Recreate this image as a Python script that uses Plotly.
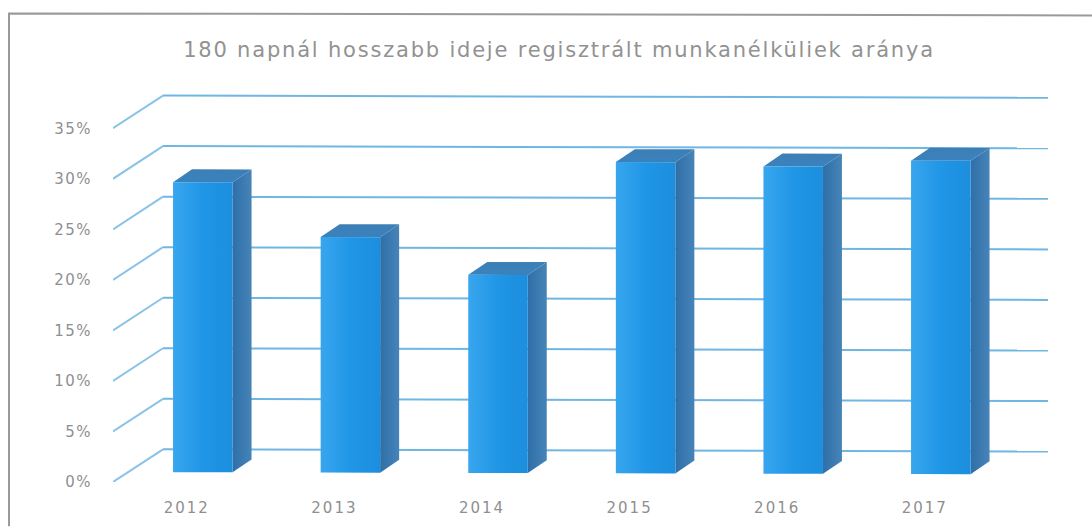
import plotly.graph_objects as go

title = "180 napnál hosszabb ideje regisztrált munkanélküliek aránya"
years = ["2012", "2013", "2014", "2015", "2016", "2017"]
shares = [28.7, 23.3, 19.6, 30.8, 30.4, 31.0]
y_ticks = [0, 5, 10, 15, 20, 25, 30, 35]

PX_X, PX_Y = 147.6, 10.17     # pixels per category / per percent
L, R, T, B = 113, 1050, 80, 484.5
SLOPE = 0.0025                # scan tilt, px down per px right
WALL = (50, 33)               # back-wall offset in pixels
BAR_FRONT = (16, 10)
BAR_BACK = (35, 23)
BAR_W = 59.5 / PX_X


def proj(cat, val, off):
    x = cat + off[0] / PX_X
    return x, val + off[1] / PX_Y - SLOPE * (x + 0.5) * PX_X / PX_Y


def poly(points):
    p = [proj(*q) for q in points] + [proj(*points[0])]
    return [a for a, _ in p], [b for _, b in p]


fig = go.Figure()
x_end = (1048 - L - WALL[0]) / PX_X - 0.5
for t in y_ticks:
    xs, ys = zip(proj(-0.5, t, (0, 0)), proj(-0.5, t, WALL))
    fig.add_trace(go.Scatter(x=xs, y=ys, mode="lines", hoverinfo="skip",
                             line=dict(color="#8ac3e6", width=2)))
    xs, ys = zip(proj(-0.5, t, WALL), proj(x_end, t, WALL))
    fig.add_trace(go.Scatter(x=xs, y=ys, mode="lines", hoverinfo="skip",
                             line=dict(color="#70b6e2", width=2)))

for i, v in enumerate(shares):
    a, b = i - BAR_W / 2, i + BAR_W / 2
    side = [(b, 0, BAR_FRONT), (b, 0, BAR_BACK), (b, v, BAR_BACK), (b, v, BAR_FRONT)]
    top = [(a, v, BAR_FRONT), (b, v, BAR_FRONT), (b, v, BAR_BACK), (a, v, BAR_BACK)]
    front = [(a, 0, BAR_FRONT), (b, 0, BAR_FRONT), (b, v, BAR_FRONT), (a, v, BAR_FRONT)]
    for pts, fg in (
        (side, dict(type="horizontal", colorscale=[[0, "#2f6fa8"], [1, "#4684b8"]])),
        (top, dict(type="vertical", colorscale=[[0, "#3a82bd"], [1, "#3d7fb6"]])),
        (front, dict(type="horizontal", colorscale=[[0, "#38a6ee"], [0.5, "#2096e6"], [1, "#1c8edd"]])),
    ):
        xs, ys = poly(pts)
        fig.add_trace(go.Scatter(x=xs, y=ys, mode="lines", fill="toself",
                                 fillgradient=fg, line=dict(width=0),
                                 hoverinfo="skip"))


def px(x, y):
    return (x - L) / (R - L), (B - y) / (B - T)


p0, p1, p2 = px(9, 529), px(9, 13), px(1092, 15)
fig.update_layout(
    width=1092, height=529, autosize=False, showlegend=False,
    paper_bgcolor="white", plot_bgcolor="white",
    margin=dict(l=L, r=1092 - R, t=T, b=529 - B),
    title=dict(text=title, x=559 / 1092, xanchor="center", y=1 - 50 / 529, yanchor="middle",
               font=dict(family="DejaVu Sans", size=21, color="#929292")),
    xaxis=dict(range=[-0.5, -0.5 + (R - L) / PX_X], tickmode="array",
               tickvals=list(range(len(years))), ticktext=years, showgrid=False,
               zeroline=False, showline=False, ticks="", ticklabelstandoff=15,
               tickfont=dict(family="DejaVu Sans", size=15, color="#8f8f8f")),
    yaxis=dict(range=[0, (B - T) / PX_Y], tickmode="array", tickvals=y_ticks,
               ticktext=[f"{t}%" for t in y_ticks], showgrid=False, zeroline=False,
               showline=False, ticks="", ticklabelstandoff=20,
               tickfont=dict(family="DejaVu Sans", size=15, color="#8f8f8f")),
    shapes=[dict(type="path", xref="paper", yref="paper",
                 path=f"M {p0[0]} {p0[1]} L {p1[0]} {p1[1]} L {p2[0]} {p2[1]}",
                 line=dict(color="#9a9a98", width=2))],
)
fig.write_html("out.html", config={"displayModeBar": False}, post_script=(
    "document.body.style.margin='0';"
    "document.querySelectorAll('.gtitle').forEach(e=>e.style.letterSpacing='1.8px');"
    "document.querySelectorAll('.xtick text').forEach(e=>e.style.letterSpacing='2px');"
    "document.querySelectorAll('.ytick text').forEach(e=>e.style.letterSpacing='1.5px');"
))
